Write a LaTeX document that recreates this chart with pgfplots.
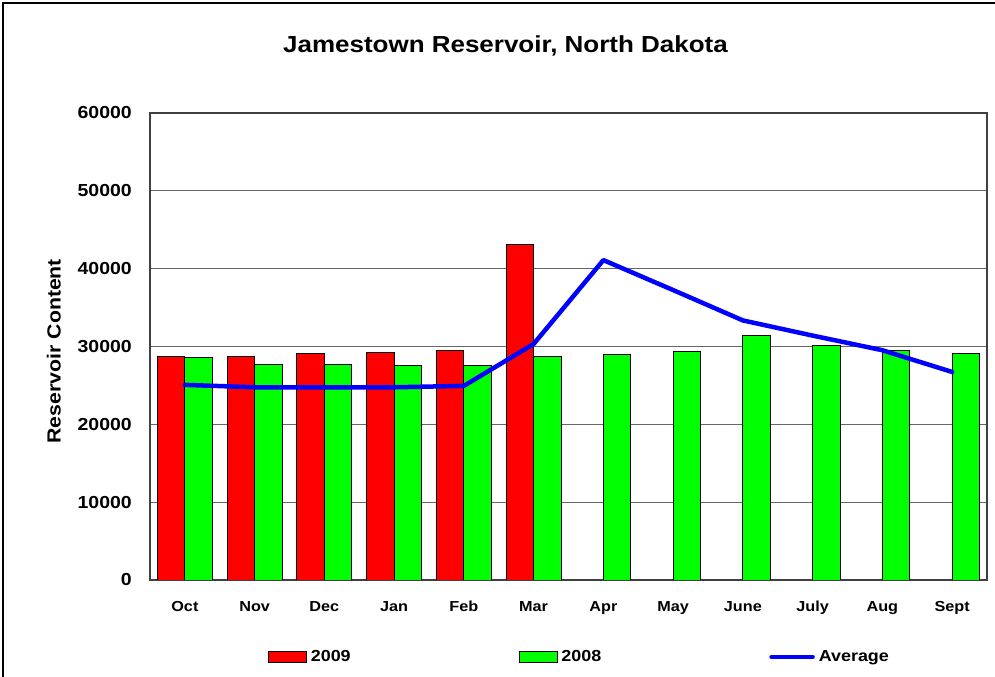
\documentclass[border=0pt]{standalone}
\usepackage{fontspec}
\setmainfont{Liberation Sans}[FakeStretch=1.12]
\usepackage{pgfplots}
\pgfplotsset{compat=1.18}
\definecolor{barred}{RGB}{255,0,0}
\definecolor{bargreen}{RGB}{0,255,0}
\definecolor{avgblue}{RGB}{0,0,255}
\pgfplotsset{
  mybarlegend/.style={legend image code/.code={\draw[##1] (0bp,-5.5bp) rectangle (38bp,5.5bp);}},
  mylinelegend/.style={legend image code/.code={\draw[##1] (0bp,0bp) -- (41bp,0bp);}},
}
\begin{document}
\begin{tikzpicture}
\useasboundingbox (0,0) rectangle (995bp,677bp);
\fill[white] (0,0) rectangle (995bp,677bp);
\draw[black, line width=1.2bp] (3bp,-5bp) -- (3bp,674bp) -- (1000bp,674bp);
\node[font=\bfseries\fontsize{23.2bp}{26bp}\selectfont, inner sep=0pt, anchor=base] at (505.5bp,624.3bp) {Jamestown Reservoir, North Dakota};
\begin{axis}[
  at={(150bp,97bp)}, anchor=south west,
  scale only axis, width=837bp, height=467bp,
  xmin=-0.5, xmax=11.5, ymin=0, ymax=60000,
  ybar=0pt, bar width=27.5bp,
  xtick={0,...,11},
  xticklabels={Oct,Nov,Dec,Jan,Feb,Mar,Apr,May,June,July,Aug,Sept},
  ytick={0,10000,...,60000},
  major tick length=0pt,
  /pgf/number format/assume math mode=true,
  /pgf/number format/1000 sep={},
  scaled y ticks=false,
  yticklabel style={font=\bfseries\fontsize{17.4bp}{20bp}\selectfont, anchor=east, inner sep=0pt, xshift=-18bp},
  xticklabel style={font=\bfseries\fontsize{14.5bp}{17bp}\selectfont, anchor=north, inner sep=0pt, yshift=-21bp},
  ymajorgrids, grid style={black!60, line width=1bp},
  axis line style={black!75, line width=1.2bp},
  ylabel={Reservoir Content},
  ylabel style={font=\bfseries\fontsize{19bp}{22bp}\selectfont, at={(axis description cs:-0.115,0.49)}, anchor=center, inner sep=0pt},
  legend columns=3,
  legend style={draw=none, fill=none, inner sep=0pt, outer sep=0pt,
    at={(axis description cs:0.141,-0.1649)}, anchor=west,
    font=\bfseries\fontsize{16bp}{18bp}\selectfont,
    nodes={inner sep=0pt, anchor=west},
    /tikz/every odd column/.append style={column sep=4bp},
    /tikz/every even column/.append style={column sep=168bp}},
]
\addplot[fill=barred, draw=black, line width=0.8bp, mybarlegend]
  coordinates {(0,28750) (1,28750) (2,29050) (3,29180) (4,29440) (5,43090)};
\addlegendentry{2009}
\addplot[fill=bargreen, draw=black, line width=0.8bp, mybarlegend]
  coordinates {(0,28550) (1,27640) (2,27730) (3,27600) (4,27600) (5,28750) (6,28950) (7,29340) (8,31400) (9,30190) (10,29440) (11,29100)};
\addlegendentry{2008}
\addplot[sharp plot, avgblue, line width=4.5bp, line join=round, line cap=round, mark=none, mylinelegend]
  coordinates {(0,25070) (1,24760) (2,24760) (3,24760) (4,24940) (5,30320) (6,41100) (7,37250) (8,33350) (9,31400) (10,29520) (11,26730)};
\addlegendentry{Average}
\end{axis}
\end{tikzpicture}
\end{document}
